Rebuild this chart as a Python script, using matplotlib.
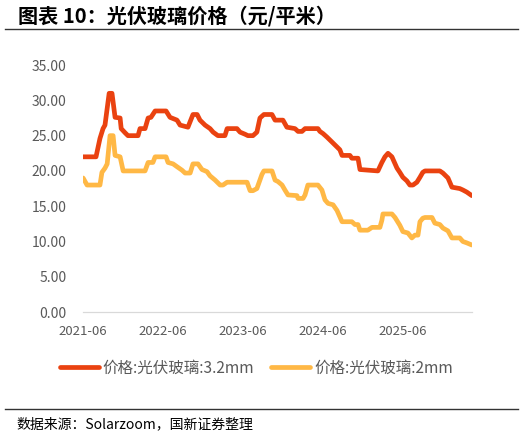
import numpy as np
import pandas as pd
import matplotlib
matplotlib.use("Agg")
import matplotlib.pyplot as plt
from matplotlib.lines import Line2D

plt.rcParams['font.family'] = ['Noto Sans CJK SC', 'DejaVu Sans']

# 3.2mm glass, vertices
dates_32 = ["2021-06-01", "2021-07-30", "2021-08-17", "2021-08-31", "2021-09-09", "2021-09-28",
            "2021-10-11", "2021-10-25", "2021-11-17", "2021-11-22", "2021-12-10", "2021-12-23",
            "2022-02-07", "2022-02-16", "2022-03-11", "2022-03-25", "2022-04-07", "2022-04-26",
            "2022-06-15", "2022-07-03", "2022-08-04", "2022-08-18", "2022-09-23", "2022-10-16",
            "2022-11-04", "2022-11-17", "2022-12-10", "2023-01-02", "2023-01-16", "2023-02-07",
            "2023-03-11", "2023-03-21", "2023-05-05", "2023-05-19", "2023-06-11", "2023-06-24",
            "2023-07-17", "2023-08-04", "2023-08-18", "2023-09-05", "2023-10-12", "2023-10-26",
            "2023-12-01", "2023-12-19", "2024-01-25", "2024-02-08", "2024-02-26", "2024-03-11",
            "2024-05-09", "2024-05-18", "2024-06-01", "2024-06-19", "2024-07-12", "2024-08-04",
            "2024-08-17", "2024-08-27", "2024-10-02", "2024-10-11", "2024-11-08", "2024-11-17",
            "2025-02-07", "2025-02-25", "2025-03-11", "2025-03-25", "2025-04-12", "2025-05-05",
            "2025-05-18", "2025-06-01", "2025-06-19", "2025-07-03", "2025-07-17", "2025-08-04",
            "2025-08-18", "2025-08-31", "2025-09-10", "2025-11-17", "2025-12-01", "2025-12-24",
            "2026-01-11", "2026-02-16", "2026-03-02", "2026-03-20", "2026-04-12"]
price_32 = [22, 22, 24.6, 26, 26.5, 31,
            31, 27.6, 27.5, 26, 25.4, 25,
            25, 26, 26, 27.5, 27.6, 28.5,
            28.5, 27.6, 27.2, 26.5, 26.2, 28,
            28, 27.2, 26.5, 26, 25.5, 25,
            25, 26, 26, 25.5, 25.2, 25,
            25, 25.5, 27.5, 28, 28, 27.2,
            27.2, 26.2, 26, 25.6, 25.6, 26,
            26, 25.6, 25.3, 24.8, 24.1, 23.4,
            23, 22.2, 22.2, 21.8, 21.8, 20.2,
            20, 21.2, 22, 22.5, 22, 20.4,
            19.8, 19.1, 18.6, 18, 18, 18.4,
            19.1, 19.8, 20, 20, 19.7, 19,
            17.7, 17.5, 17.3, 17, 16.5]

# 2mm glass
dates_2 = ["2021-06-01", "2021-06-19", "2021-08-17", "2021-08-26", "2021-09-09", "2021-09-19",
           "2021-10-02", "2021-10-16", "2021-10-25", "2021-11-17", "2021-12-01", "2022-03-11",
           "2022-03-25", "2022-04-16", "2022-04-26", "2022-06-15", "2022-06-24", "2022-07-17",
           "2022-08-04", "2022-08-27", "2022-09-10", "2022-10-03", "2022-10-16", "2022-11-08",
           "2022-11-26", "2022-12-19", "2023-01-02", "2023-01-25", "2023-02-17", "2023-03-02",
           "2023-03-21", "2023-06-20", "2023-07-04", "2023-07-17", "2023-08-04", "2023-08-27",
           "2023-09-05", "2023-10-12", "2023-10-26", "2023-11-08", "2023-11-27", "2023-12-10",
           "2023-12-24", "2024-02-03", "2024-02-08", "2024-03-02", "2024-03-11", "2024-03-24",
           "2024-05-09", "2024-05-27", "2024-06-10", "2024-06-24", "2024-07-17", "2024-08-04",
           "2024-08-17", "2024-08-27", "2024-10-11", "2024-10-25", "2024-11-08", "2024-11-17",
           "2024-12-23", "2025-01-11", "2025-02-16", "2025-02-25", "2025-03-02", "2025-04-12",
           "2025-04-26", "2025-05-18", "2025-06-01", "2025-06-24", "2025-07-12", "2025-07-26",
           "2025-08-09", "2025-08-18", "2025-08-31", "2025-09-10", "2025-10-12", "2025-10-25",
           "2025-11-17", "2025-12-01", "2025-12-24", "2026-01-11", "2026-02-16", "2026-03-02",
           "2026-03-20", "2026-04-12"]
price_2 = [19, 18, 18, 19.8, 20.4, 21,
           25, 25, 22.2, 22, 20, 20,
           21.2, 21.2, 22, 22, 21.2, 21,
           20.6, 20.1, 19.7, 19.7, 21, 21,
           20.2, 19.9, 19.3, 18.7, 18, 18,
           18.4, 18.4, 17.2, 17.2, 17.5, 19.5,
           20, 20, 18.7, 18.5, 18, 17.3,
           16.6, 16.5, 16.1, 16.1, 16.6, 18,
           18, 17.3, 15.9, 15.4, 15.2, 14.4,
           13.5, 12.8, 12.8, 12.4, 12.4, 11.6,
           11.6, 12, 12, 13, 13.9, 13.9,
           13.4, 12.3, 11.4, 11.2, 10.5, 10.9,
           10.9, 12.8, 13.3, 13.4, 13.4, 12.6,
           12.4, 11.9, 11.5, 10.5, 10.5, 10,
           9.8, 9.5]

tick_dates = ["2021-06-01", "2022-06-01", "2023-06-01", "2024-06-01", "2025-06-01"]
tick_labels = ["2021-06", "2022-06", "2023-06", "2024-06", "2025-06"]
names = ["价格:光伏玻璃:3.2mm", "价格:光伏玻璃:2mm"]

red = "#EA4210"
orange = "#FFB845"
grey = "#595959"

fig = plt.figure(figsize=(5.26, 4.37), dpi=100)
ax = fig.add_axes([0.158, 0.286, 0.739, 0.565])

ax.plot(pd.to_datetime(dates_32), price_32, color=red, lw=3.4, solid_joinstyle="round",
        solid_capstyle="round")
ax.plot(pd.to_datetime(dates_2), price_2, color=orange, lw=3.4, solid_joinstyle="round",
        solid_capstyle="round")

ax.set_ylim(0, 35)
ax.set_yticks(np.arange(0, 36, 5))
ax.set_yticklabels([f"{v:.2f}" for v in np.arange(0, 36, 5)])
ax.set_xlim(pd.Timestamp(dates_32[0]), pd.Timestamp(dates_32[-1]))
ax.set_xticks(pd.to_datetime(tick_dates))
ax.set_xticklabels(tick_labels)

for s in ["top", "right", "left"]:
    ax.spines[s].set_visible(False)
ax.spines["bottom"].set_color("#d9d9d9")
ax.spines["bottom"].set_linewidth(0.9)
ax.tick_params(length=0, colors=grey, labelsize=10)
ax.tick_params(axis="y", pad=12)
ax.tick_params(axis="x", pad=9, labelsize=9.5)

handles = [Line2D([], [], color=red, lw=3.4, solid_capstyle="round"),
           Line2D([], [], color=orange, lw=3.4, solid_capstyle="round")]
fig.legend(handles, names, loc="center", bbox_to_anchor=(0.487, 0.158), ncol=2, frameon=False,
           fontsize=11.2, labelcolor=grey, handlelength=2.5, handletextpad=0.25, columnspacing=1.1)

fig.text(0.034, 0.964, "图表 10：光伏玻璃价格（元/平米）", fontsize=14.5, fontweight="bold",
         fontstyle="italic", va="center", ha="left")
fig.add_artist(Line2D([0.01, 0.985], [0.934, 0.934], color="#333333", lw=1.0))
fig.add_artist(Line2D([0.01, 0.985], [0.064, 0.064], color="#333333", lw=1.0))
fig.text(0.032, 0.03, "数据来源：Solarzoom，国新证券整理", fontsize=10, va="center", ha="left")

fig.savefig("out.png", dpi=100)
